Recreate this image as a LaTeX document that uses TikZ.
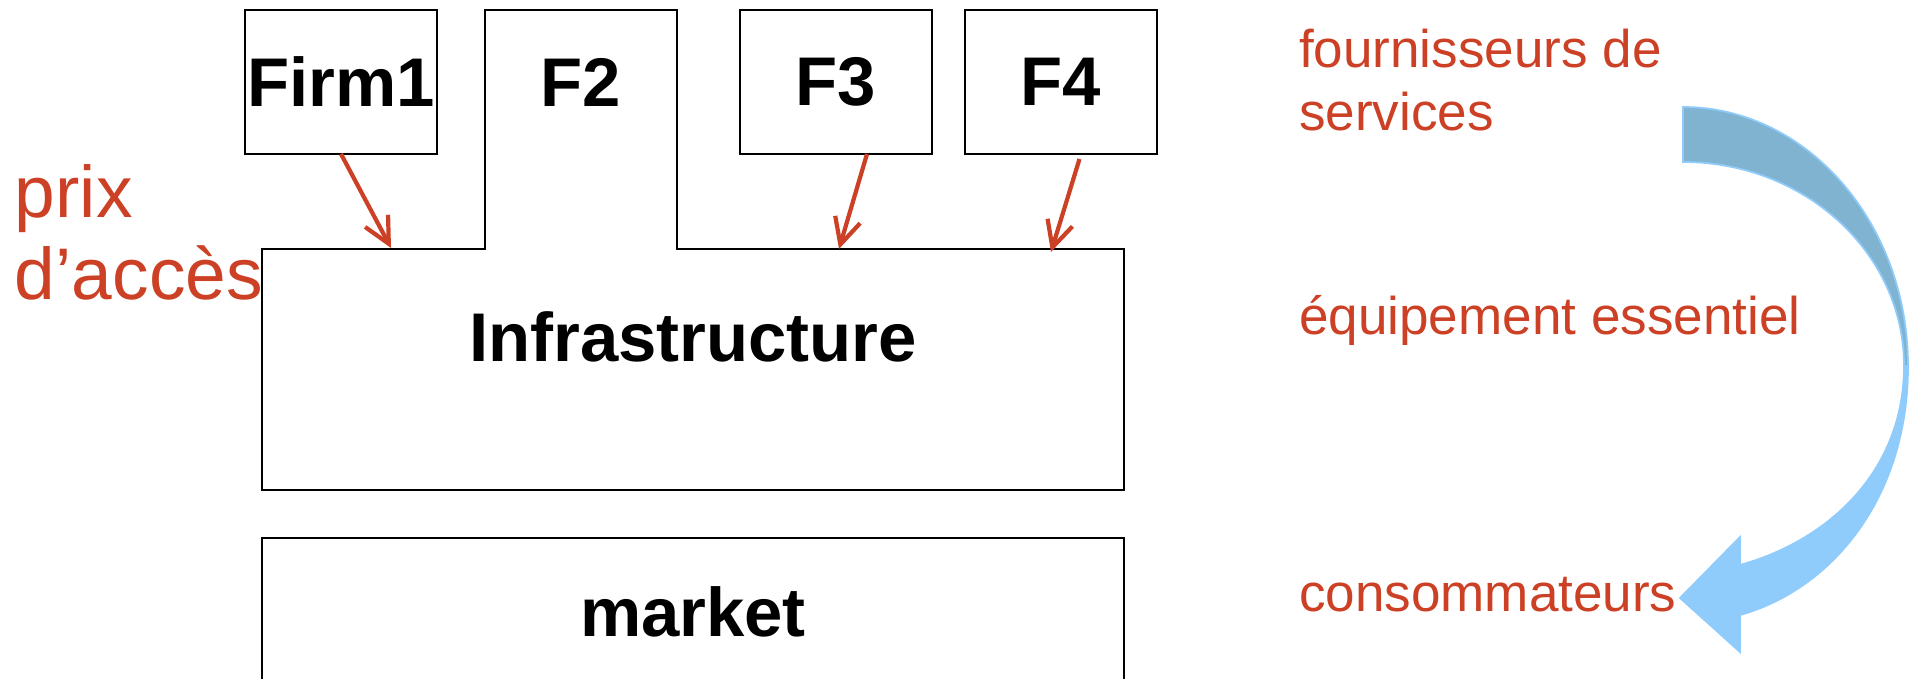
\documentclass[tikz,border=0pt]{standalone}
\usepackage{fontspec}
\setmainfont{Liberation Sans}
\definecolor{AccessRed}{RGB}{204,65,37}
\definecolor{FlowBack}{RGB}{127,179,207}
\definecolor{FlowFront}{RGB}{143,203,251}
\usetikzlibrary{positioning,arrows.meta,calc}

\begin{document}
\begin{tikzpicture}[x=0.1mm, y=-0.1mm,
      every node/.style={inner sep=0pt, outer sep=0pt},
      firm/.style={draw=black, line width=0.6pt, minimum width=19.2mm, minimum height=14.4mm,
                   font=\fontsize{19.6}{24}\selectfont\bfseries},
      edge/.style={draw=black, line width=0.6pt},
      note/.style={text=AccessRed, align=left, font=\fontsize{15.1}{18.2}\selectfont},
      arr/.style={-{Straight Barb[length=2.6mm, width=2.6mm]}, draw=AccessRed, line width=1.2pt}
  ]
    \useasboundingbox (0,0) rectangle (1912,679);
    \node[firm] (firm1) at (341,82) {Firm1};
    \node[firm, draw=none, right=4.8mm of firm1] (f2) {F2};
    \node[firm, right=6.3mm of f2] (f3) {F3};
    \node[firm, right=3.3mm of f3] (f4) {F4};
    \node[minimum width=86.2mm, minimum height=24.1mm] (infra) at (693,369.5) {};
    \node[font=\fontsize{19.6}{24}\selectfont\bfseries, anchor=base] (infralbl) at (693,362) {Infrastructure};
    \node[firm, minimum width=86.2mm, minimum height=14.8mm] (market) at (693,612) {market};
    \draw[edge] (infra.north west) -- (f2.west |- infra.north) -- (f2.north west) -- (f2.north east)
      -- (f2.east |- infra.north) -- (infra.north east) -- (infra.south east) -- (infra.south west) -- cycle;
    \coordinate (in1) at (391,248);
    \coordinate (in3) at (839,249);
    \coordinate (in4) at (1051,252);
    \draw[arr] (firm1.south) -- (in1);
    \draw[arr] ([xshift=3.1mm]f3.south) -- (in3);
    \draw[arr] ([xshift=1.85mm, yshift=-0.5mm]f4.south) -- (in4);
    \node[note, anchor=base west, font=\fontsize{20.8}{23.6}\selectfont] (prix) at (15,300) {prix\\d’accès};
    \node[note, anchor=base west] (four) at (1299,131) {fournisseurs de\\services};
    \node[note, anchor=base west] (equip) at (1299,335) {équipement essentiel};
    \node[note, anchor=base west] (conso) at (1299,612) {consommateurs};
    \fill[FlowBack, draw=FlowFront, line width=0.5pt] (1683,107) .. controls (1807,107) and (1908,223) .. (1908,366)
      -- (1904,366) .. controls (1904,253) and (1805,162) .. (1683,162) -- cycle;
    \fill[FlowFront, draw=FlowFront, line width=0.5pt] (1908,366) .. controls (1908,500) and (1830,590) .. (1740,615)
      -- (1740,652) -- (1680,598) -- (1740,537) -- (1740,565) .. controls (1830,540) and (1904,470) .. (1904,366) -- cycle;
  \end{tikzpicture}
\end{document}
